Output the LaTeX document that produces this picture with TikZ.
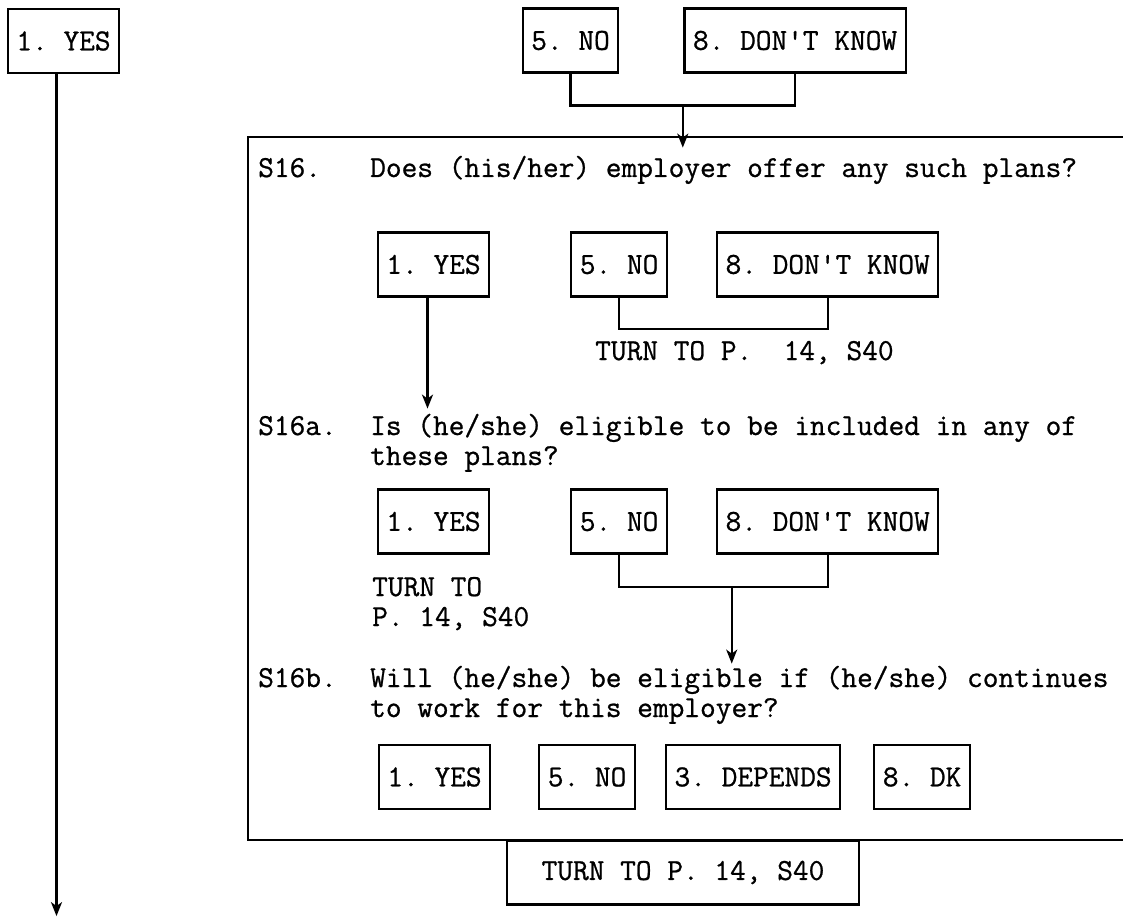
\documentclass[tikz,border=0pt]{standalone}
\usepackage{fontspec}
\setmonofont{lmmono12-regular.otf}[FakeBold=0.8]
\usetikzlibrary{arrows.meta,calc,positioning}
\frenchspacing

\begin{document}
\begin{tikzpicture}[
    x=1pt, y=-1pt,
    every node/.style={font=\ttfamily\fontsize{30.5}{30}\selectfont},
    box/.style={draw, line width=2.2pt, minimum height=64pt, inner xsep=8.5pt, inner ysep=0pt},
    line/.style={draw, line width=2.2pt},
    arrow/.style={line, -{Stealth[length=14pt, width=11pt, inset=4pt]}},
    txt/.style={inner sep=0pt, anchor=base west, align=left},
]
\useasboundingbox (0,0) rectangle (1123,917);

% Blocks
\node[box] (yesL) at (63.5,41) {1. YES};
\node[box] (no0) at (570.5,40.5) {5. NO};
\node[box, right=64pt of no0] (dk0) {8. DON\textquotesingle T KNOW};

\node[box] (yes2) at (433.5,264.5) {1. YES};
\node[box, right=80pt of yes2] (no2) {5. NO};
\node[box, right=48pt of no2] (dk2) {8. DON\textquotesingle T KNOW};

\node[box] (yes3) at (433.5,521.5) {1. YES};
\node[box, right=80pt of yes3] (no3) {5. NO};
\node[box, right=48pt of no3] (dk3) {8. DON\textquotesingle T KNOW};

\node[box] (yes4) at (434.5,777) {1. YES};
\node[box, right=47pt of yes4] (no4) {5. NO};
\node[box, right=29pt of no4] (dep4) {3. DEPENDS};
\node[box, right=32pt of dep4] (dk4) {8. DK};

\node[box, minimum width=352pt] (turn) at (683,872.5) {TURN TO P. 14, S40};

% Questions (base = last line)
\node[txt] (q16) at (258,177) {S16.};
\node[txt] (q16t) at (370,177) {Does (his/her) employer offer any such plans?};
\node[txt] (q16a) at (258,435) {S16a.};
\node[txt] (q16at) at (370,465) {Is (he/she) eligible to be included in any of\\these plans?};
\node[txt] (q16b) at (258,687) {S16b.};
\node[txt] (q16bt) at (370,717) {Will (he/she) be eligible if (he/she) continues\\to work for this employer?};

% Labels
\node[txt] (turn2) at (595,360) {TURN TO P.\ \ 14, S40};
\node[txt] (turn3) at (372,626) {TURN TO\\P. 14, S40};

% Frame
\draw[line] (1123,137) -| (248,840) -- (1123,840);

% Lines
\draw[arrow] ([xshift=-7pt]yesL.south) -- ++(0,842);
\draw[line] (no0.south) -- ++(0,32) -| coordinate[pos=0.25] (j0) (dk0.south);
\draw[arrow] (j0) -- ++(0,42);
\draw[arrow] ([xshift=-6pt]yes2.south) -- ++(0,111);
\draw[line] (no2.south) -- ++(0,31) -| (dk2.south);
\draw[line] (no3.south) -- ++(0,32) -| coordinate[pos=0.27] (j3) (dk3.south);
\draw[arrow] (j3) -- ++(0,77);

\end{tikzpicture}
\end{document}
